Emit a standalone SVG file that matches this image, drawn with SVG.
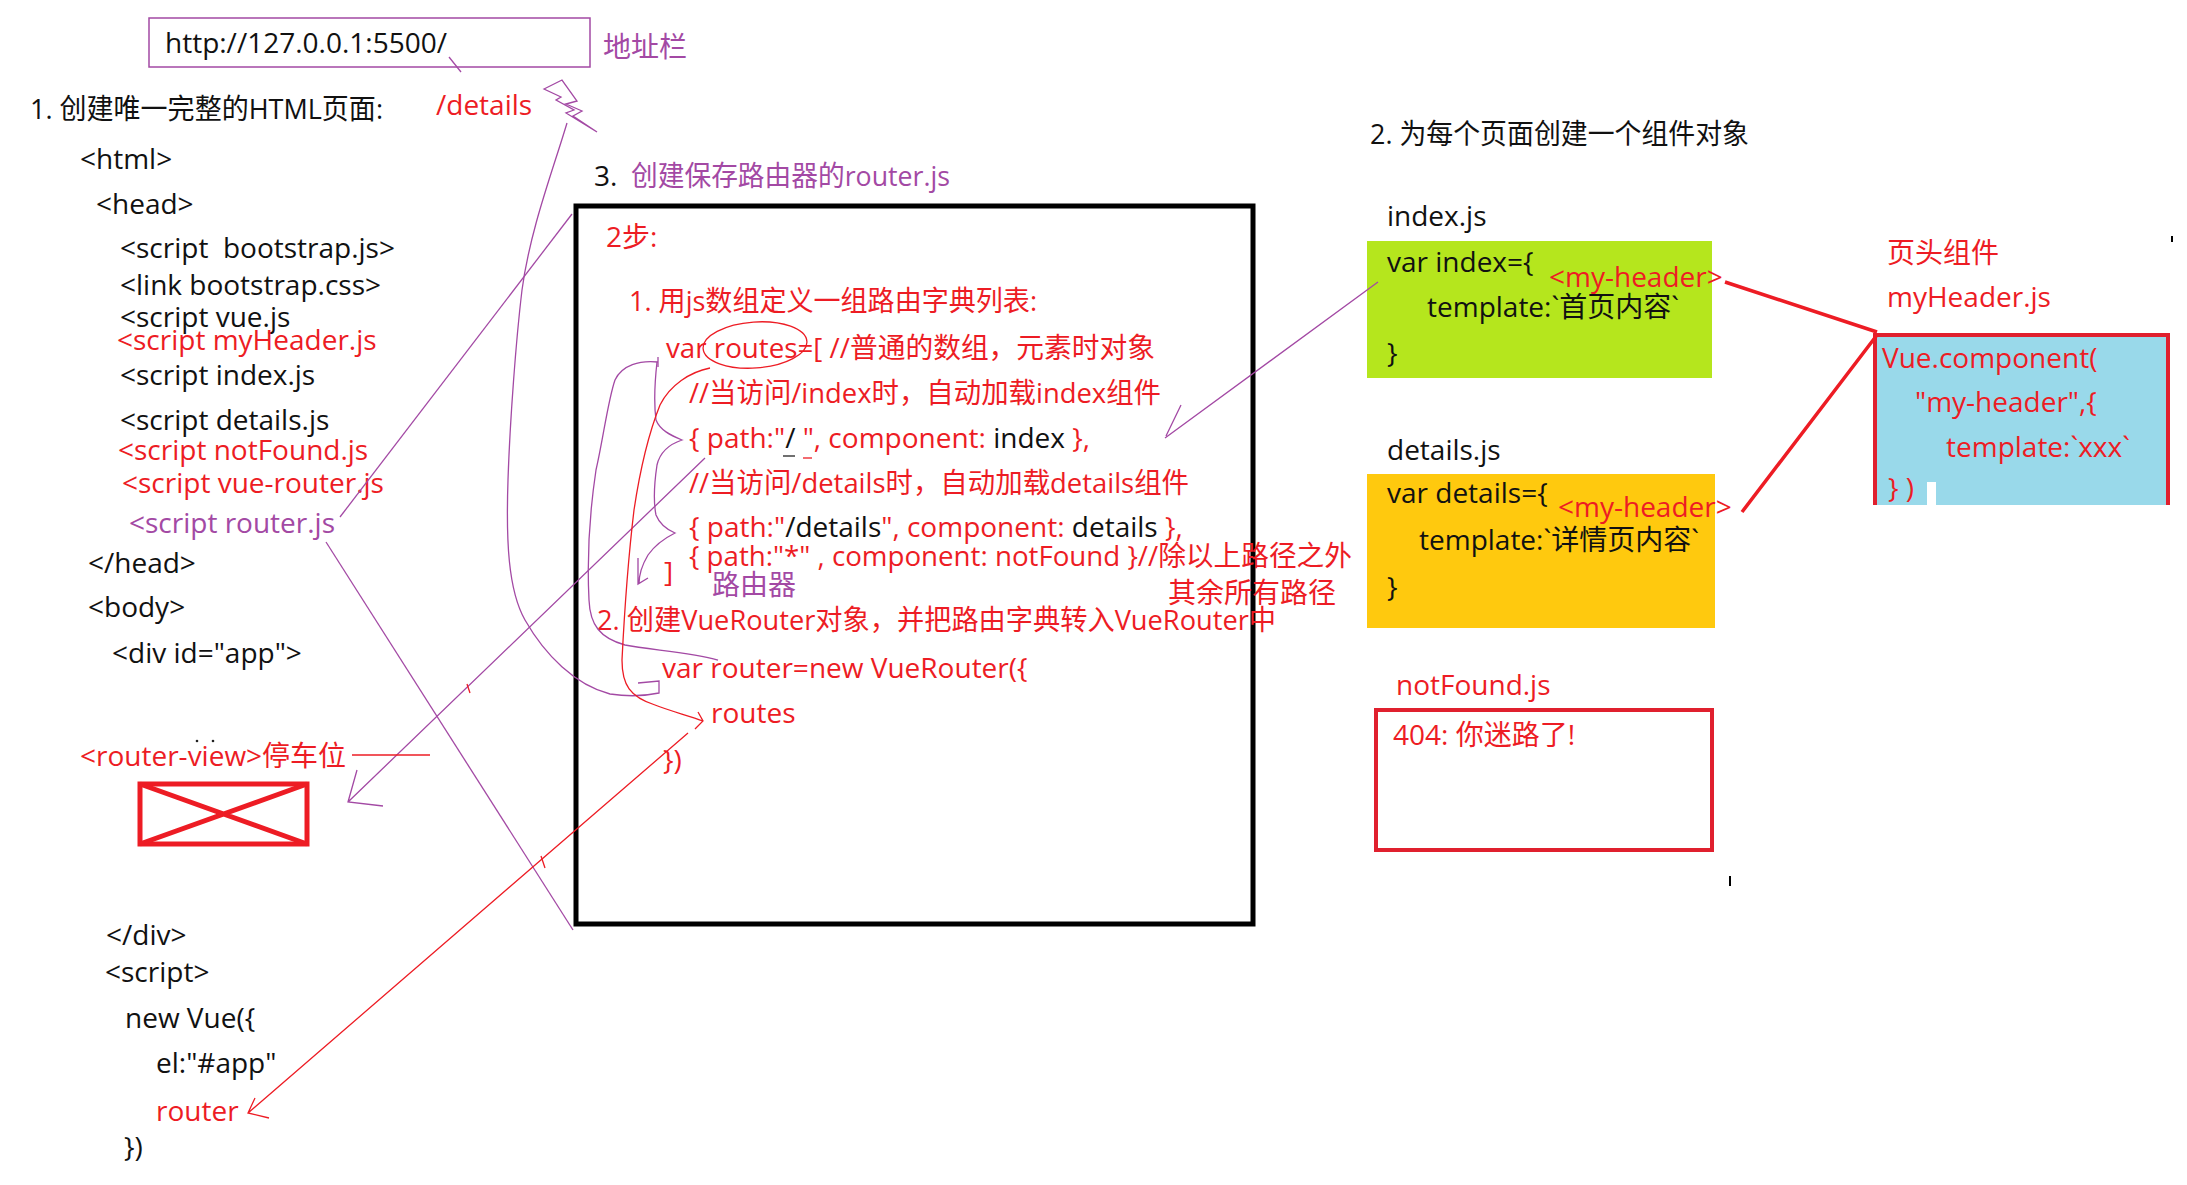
<svg xmlns="http://www.w3.org/2000/svg" width="2187" height="1185" viewBox="0 0 2187 1185">
<style>
text{font-family:"Open Sans","Noto Sans CJK SC",sans-serif;font-size:28px;fill:#111}
.r{fill:#ED1C24}
.p{fill:#A349A4}
.k{fill:#111}
.pl{fill:none;stroke:#A349A4;stroke-width:1.3}
.rl{fill:none;stroke:#ED1C24;stroke-width:1.3}
.rt{fill:none;stroke:#ED1C24;stroke-width:3.5}
</style>
<rect width="2187" height="1185" fill="#fff"/>

<g id="address-bar">
<rect x="149" y="18" width="441" height="49" fill="none" stroke="#A349A4" stroke-width="1.5"/>
<text x="165" y="53">http://127.0.0.1:5500/</text>
<text class="p" x="603" y="57">地址栏</text>
<text class="r" x="436" y="115">/details</text>
</g>

<g id="html-page">
<text x="30" y="119" font-size="27" textLength="353" lengthAdjust="spacingAndGlyphs">1. 创建唯一完整的HTML页面:</text>
<text x="80" y="169">&lt;html&gt;</text>
<text x="96" y="214">&lt;head&gt;</text>
<text x="120" y="258" xml:space="preserve">&lt;script  bootstrap.js&gt;</text>
<text x="120" y="295">&lt;link bootstrap.css&gt;</text>
<text x="120" y="327">&lt;script vue.js</text>
<text class="r" x="117" y="350">&lt;script myHeader.js</text>
<text x="120" y="385">&lt;script index.js</text>
<text x="120" y="430">&lt;script details.js</text>
<text class="r" x="118" y="460">&lt;script notFound.js</text>
<text class="r" x="122" y="493">&lt;script vue-router.js</text>
<text class="p" x="129" y="533">&lt;script router.js</text>
<text x="88" y="573">&lt;/head&gt;</text>
<text x="88" y="617">&lt;body&gt;</text>
<text x="112" y="663">&lt;div id="app"&gt;</text>
<circle cx="197" cy="741" r="1.3" fill="#222"/>
<circle cx="213" cy="741" r="1.3" fill="#222"/>
<text x="106" y="945">&lt;/div&gt;</text>
<text x="105" y="982">&lt;script&gt;</text>
<text x="125" y="1028">new Vue({</text>
<text x="156" y="1073">el:"#app"</text>
<text class="r" x="156" y="1121">router</text>
<text x="124" y="1157">})</text>
</g>

<g id="router-view">
<text class="r" x="80" y="766">&lt;router-view&gt;停车位</text>
<rect x="140" y="784" width="167" height="60" fill="none" stroke="#ED1C24" stroke-width="5"/>
<path d="M140,784 L307,844 M140,844 L307,784" stroke="#ED1C24" stroke-width="5" fill="none"/>
</g>

<g id="router-js">
<text x="594" y="186" font-size="27">3.</text>
<text class="p" x="631" y="186" font-size="27" textLength="319" lengthAdjust="spacingAndGlyphs">创建保存路由器的router.js</text>
<rect x="576" y="206" width="677" height="718" fill="none" stroke="#000" stroke-width="5"/>
<text class="r" x="606" y="247">2步:</text>
<text class="r" x="629" y="311" textLength="408" lengthAdjust="spacingAndGlyphs">1. 用js数组定义一组路由字典列表:</text>
<text class="r" x="666" y="358" textLength="489" lengthAdjust="spacingAndGlyphs">var routes=[ //普通的数组，元素时对象</text>
<text class="r" x="689" y="403" textLength="472" lengthAdjust="spacingAndGlyphs">//当访问/index时，自动加载index组件</text>
<text class="r" x="689" y="448" xml:space="preserve">{ path:"<tspan class="k">/</tspan> ", component: <tspan class="k">index</tspan> },</text>
<text class="r" x="689" y="493" textLength="500" lengthAdjust="spacingAndGlyphs">//当访问/details时，自动加载details组件</text>
<text class="r" x="689" y="537" xml:space="preserve">{ path:"<tspan class="k">/details</tspan>", component: <tspan class="k">details</tspan> },</text>
<text class="r" x="689" y="566" xml:space="preserve" textLength="663" lengthAdjust="spacingAndGlyphs">{ path:"*" , component: notFound }//除以上路径之外</text>
<text class="r" x="664" y="582">]</text>
<text class="p" x="712" y="595">路由器</text>
<text class="r" x="1168" y="603">其余所有路径</text>
<text class="r" x="597" y="630" textLength="679" lengthAdjust="spacingAndGlyphs">2. 创建VueRouter对象，并把路由字典转入VueRouter中</text>
<text class="r" x="662" y="678">var router=new VueRouter({</text>
<text class="r" x="711" y="723">routes</text>
<text class="r" x="663" y="770">})</text>
</g>

<g id="section2">
<text x="1370" y="144" textLength="379" lengthAdjust="spacingAndGlyphs">2. 为每个页面创建一个组件对象</text>
</g>

<g id="index-js">
<text x="1387" y="226">index.js</text>
<rect x="1367" y="241" width="345" height="137" fill="#B5E61D"/>
<text x="1387" y="272">var index={</text>
<text class="r" x="1549" y="287">&lt;my-header&gt;</text>
<text x="1427" y="317">template:`首页内容`</text>
<text x="1387" y="363">}</text>
</g>

<g id="details-js">
<text x="1387" y="460">details.js</text>
<rect x="1367" y="474" width="348" height="154" fill="#FFC90E"/>
<text x="1387" y="503">var details={</text>
<text class="r" x="1558" y="517">&lt;my-header&gt;</text>
<text x="1419" y="550">template:`详情页内容`</text>
<text x="1387" y="597">}</text>
</g>

<g id="notfound-js">
<text class="r" x="1396" y="695">notFound.js</text>
<rect x="1376" y="710" width="336" height="140" fill="#fff" stroke="#E0202E" stroke-width="4"/>
<text class="r" x="1393" y="745">404: 你迷路了!</text>
</g>

<g id="my-header">
<text class="r" x="1887" y="263">页头组件</text>
<text class="r" x="1887" y="307">myHeader.js</text>
<rect x="1873" y="333" width="297" height="172" fill="#99D9EA"/>
<path d="M1875,505 L1875,335 L2168,335 L2168,505" fill="none" stroke="#E0202E" stroke-width="4"/>
<rect x="1927" y="482" width="9" height="23" fill="#fff"/>
<text class="r" x="1882" y="368">Vue.component(</text>
<text class="r" x="1915" y="412">"my-header",{</text>
<text class="r" x="1946" y="457">template:`xxx`</text>
<text class="r" x="1888" y="498" xml:space="preserve">} )</text>
</g>

<g id="connectors">
<path class="pl" d="M449,57 L461,72"/>
<path class="pl" d="M544,89 L562,80 L577,101 L566,104 L582,111 L573,116 L597,132 L566,113 L574,110 L556,100 L561,97 Z"/>
<path class="pl" d="M567,123 C553,170 530,230 522,290 C516,340 510,420 508,480 C506,540 508,590 525,620 C545,655 575,685 610,694 C630,697 645,696 659,693 L659,681 L638,683"/>
<path class="pl" d="M658,357 L658,367 M658,362 C640,360 622,365 615,380 C608,400 603,440 596,470 C590,510 587,560 589,600 C590,625 600,638 625,645 C650,650 690,652 718,660"/>
<path class="pl" d="M657,362 C655,380 654,405 656,420 C660,430 670,435 682,440 C670,444 660,452 657,465 C654,485 654,505 656,515 C660,525 668,530 675,533 C665,538 655,545 648,555 C642,565 639,575 639,584 M638,558 L638,584 L648,578"/>
<path class="pl" d="M705,458 L348,802 M357,770 L348,802 L383,806"/>
<path class="pl" d="M340,517 L572,214"/>
<path class="pl" d="M326,542 L573,930"/>
<path class="pl" d="M1378,282 L1165,438 M1181,405 L1166,436"/>
<ellipse class="rl" cx="755" cy="345" rx="52" ry="23" transform="rotate(-4 755 345)"/>
<path class="rl" d="M710,368 C690,372 670,385 660,405 C650,430 640,470 634,510 C628,560 624,620 622,660 C622,685 630,697 655,705 C670,711 690,716 703,721 M698,712 L703,721 L695,729"/>
<path class="rl" d="M688,733 L248,1113 M255,1098 L248,1113 L269,1118"/>
<path class="rl" d="M467,684 L470,693 M541,856 L545,868"/>
<path class="rl" d="M352,755 L430,755"/>
<path d="M783,456 L795,456" stroke="#222" stroke-width="1.3"/>
<path class="rl" d="M803,458 L812,458"/>
<path class="rt" d="M1725,282 L1877,332 M1742,512 L1877,335"/>
<path d="M2172,236 L2172,242 M1730,876 L1730,886" stroke="#000" stroke-width="2"/>
</g>
</svg>
